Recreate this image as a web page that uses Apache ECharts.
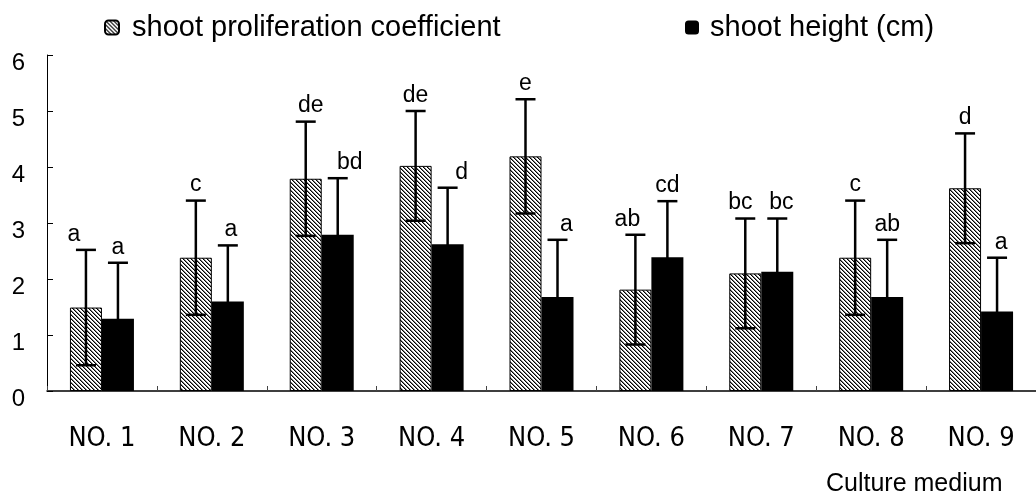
<!DOCTYPE html>
<html><head><meta charset="utf-8">
<script src="https://cdn.jsdelivr.net/npm/echarts@6/dist/echarts.min.js"></script>
<style>html,body{margin:0;padding:0;background:#fff}#c{width:1036px;height:497px}</style>
</head><body><div id="c"></div>
<script>
// ---- data ----
const categories = ['NO. 1','NO. 2','NO. 3','NO. 4','NO. 5','NO. 6','NO. 7','NO. 8','NO. 9'];
const seriesNames = ['shoot proliferation coefficient', 'shoot height (cm)'];
const proliferation = [1.49, 2.38, 3.79, 4.02, 4.19, 1.81, 2.10, 2.38, 3.62];
const proliferationErr = [1.03, 1.02, 1.02, 0.98, 1.02, 0.98, 0.98, 1.02, 0.98];
const proliferationLetters = ['a','c','de','de','e','ab','bc','c','d'];
const shootHeight = [1.29, 1.60, 2.79, 2.62, 1.68, 2.39, 2.13, 1.68, 1.42];
const shootHeightErr = [1.00, 1.00, 1.01, 1.01, 1.02, 1.00, 0.95, 1.02, 0.96];
const shootHeightLetters = ['a','a','bd','d','a','cd','bc','ab','a'];
const yTicks = [0, 1, 2, 3, 4, 5, 6];
const xAxisName = 'Culture medium';

// ---- style ----
const BAR_W = 32;
const letterShiftA = [-12, 0, 5, 0, 0, -8, -5, 0, 0];
const letterShiftB = [0, 3, 12, 14, 9, 0, 4, 0, 4];
const FONT = "'Liberation Sans', Arial, sans-serif";
const NARROW = "'Liberation Sans Narrow', 'DejaVu Sans Condensed', 'Liberation Sans', sans-serif";

function hatch() {
  const c = document.createElement('canvas');
  c.width = 4; c.height = 4;
  const g = c.getContext('2d');
  g.fillStyle = '#fff'; g.fillRect(0, 0, 4, 4);
  g.fillStyle = '#000';
  for (let i = 0; i < 4; i++) g.fillRect(i, i, 1, 1);
  g.fillStyle = 'rgba(0,0,0,0.5)';
  for (let i = 0; i < 4; i++) g.fillRect((i + 1) % 4, i, 1, 1);
  return c;
}
const hatchPattern = { image: hatch(), repeat: 'repeat' };

function errorSeries(vals, errs, letters, side, shifts) {
  return {
    type: 'custom',
    z: 5,
    silent: true,
    data: vals.map((v, i) => [i, v, errs[i]]),
    renderItem: function (params, api) {
      const i = api.value(0), v = api.value(1), e = api.value(2);
      const t = api.coord([i, v + e]);
      const b = api.coord([i, v - e]);
      const x = t[0] + side * BAR_W / 2;
      const ls = { stroke: '#000', lineWidth: 2.5 };
      return {
        type: 'group',
        children: [
          { type: 'line', shape: { x1: x, y1: t[1], x2: x, y2: b[1] }, style: ls },
          { type: 'line', shape: { x1: x - 10, y1: t[1], x2: x + 10, y2: t[1] }, style: ls },
          { type: 'line', shape: { x1: x - 10, y1: b[1], x2: x + 10, y2: b[1] }, style: ls },
          { type: 'text', x: x + shifts[params.dataIndex], y: t[1] - 4,
            style: { text: letters[params.dataIndex], fill: '#000', font: '23px ' + FONT,
                     textAlign: 'center', textVerticalAlign: 'bottom' } }
        ]
      };
    }
  };
}

const chart = echarts.init(document.getElementById('c'));
chart.setOption({
  animation: false,
  backgroundColor: '#fff',
  grid: { left: 47, top: 55, width: 990, height: 340 },
  legend: [
    { data: [seriesNames[0]], left: 104, top: 13, padding: 0, itemWidth: 14, itemHeight: 14,
      textStyle: { fontSize: 29, color: '#000', fontFamily: FONT, padding: [0, 0, 0, 8] } },
    { data: [seriesNames[1]], left: 685, top: 13, padding: 0, itemWidth: 14, itemHeight: 14,
      textStyle: { fontSize: 29, color: '#000', fontFamily: FONT, padding: [0, 0, 0, 6] } }
  ],
  xAxis: {
    type: 'category', data: categories,
    axisLine: { lineStyle: { color: '#000', width: 1.5 } },
    axisTick: { show: true, inside: true, length: 5, lineStyle: { color: '#444' } },
    axisLabel: { fontSize: 27, color: '#000', fontFamily: NARROW, margin: 34 },
    name: xAxisName, nameLocation: 'end', nameGap: -210,
    nameTextStyle: { fontSize: 25, color: '#000', fontFamily: FONT, align: 'left',
                     verticalAlign: 'top', padding: [81, 0, 0, 0] }
  },
  yAxis: {
    type: 'value', min: yTicks[0], max: yTicks[yTicks.length - 1], interval: 1,
    axisLine: { show: true, lineStyle: { color: '#000', width: 1 } },
    axisTick: { show: true, inside: true, length: 6, lineStyle: { color: '#000' } },
    splitLine: { show: false },
    axisLabel: { fontSize: 24, color: '#000', fontFamily: FONT, margin: 22,
                 verticalAlign: 'top', lineHeight: 16 }
  },
  series: [
    { name: seriesNames[0], type: 'bar', data: proliferation, barWidth: BAR_W, barGap: '0%',
      itemStyle: { color: hatchPattern, borderColor: '#000', borderWidth: 1 } },
    { name: seriesNames[1], type: 'bar', data: shootHeight, barWidth: BAR_W, barGap: '0%',
      itemStyle: { color: '#000' } },
    errorSeries(proliferation, proliferationErr, proliferationLetters, -1, letterShiftA),
    errorSeries(shootHeight, shootHeightErr, shootHeightLetters, 1, letterShiftB)
  ]
});
</script></body></html>
